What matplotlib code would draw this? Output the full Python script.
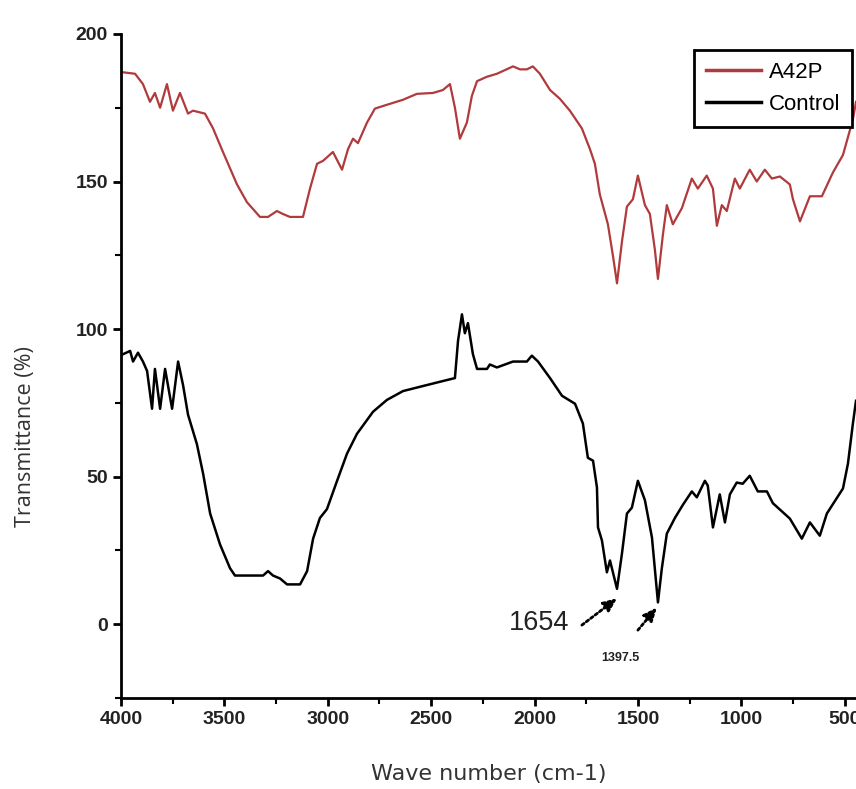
import matplotlib.pyplot as plt
from matplotlib.ticker import MultipleLocator

# ---------------------------------------------
# Datos leídos del espectro FTIR
# ---------------------------------------------
wn_a42p = [3990, 3932, 3894, 3860, 3836, 3811, 3778, 3749, 3715, 3676, 3652, 3594,
           3555, 3507, 3439, 3391, 3328, 3289, 3246, 3217, 3183, 3120, 3086, 3052,
           3023, 2975, 2931, 2902, 2878, 2854, 2810, 2772, 2714, 2636, 2569, 2491,
           2443, 2409, 2385, 2361, 2327, 2303, 2278, 2230, 2182, 2104, 2070, 2037,
           2008, 1974, 1925, 1877, 1829, 1771, 1732, 1708, 1684, 1645, 1621, 1601,
           1577, 1553, 1524, 1500, 1466, 1442, 1418, 1403, 1379, 1360, 1331, 1287,
           1239, 1210, 1167, 1137, 1118, 1094, 1070, 1031, 1007, 959, 925, 886,
           852, 813, 765, 750, 716, 668, 610, 557, 508, 460, 445]
t_a42p = [187, 186.5, 183, 177, 180, 175, 183, 174, 180, 173, 174, 173,
          168, 160, 149, 143, 138, 138, 140, 139, 138, 138, 147.6, 156,
          157, 160, 154, 161, 164.5, 163, 170, 174.7, 176, 177.7, 179.7, 180,
          181, 183, 175, 164.5, 170, 179, 184, 185.5, 186.5, 189, 188, 188,
          189, 186.5, 181, 178, 174, 168, 161, 156, 145.6, 135.5, 125, 115.5,
          129.7, 141.5, 144, 152, 142, 139, 127, 117, 132, 142, 135.5, 141,
          151, 147.6, 152, 147.6, 135, 142, 140, 151, 147.6, 154, 150, 154,
          151, 151.7, 149, 144, 136.5, 145, 145, 153, 159, 171, 177]

wn_control = [3990, 3956, 3942, 3918, 3894, 3874, 3850, 3836, 3811, 3787, 3753, 3724,
              3700, 3676, 3633, 3603, 3569, 3521, 3473, 3449, 3313, 3289, 3265, 3231,
              3197, 3134, 3100, 3071, 3038, 3004, 2955, 2907, 2859, 2781, 2714, 2636,
              2540, 2443, 2385, 2370, 2351, 2337, 2322, 2298, 2278, 2230, 2216, 2182,
              2104, 2037, 2013, 1983, 1925, 1867, 1804, 1766, 1742, 1717, 1698, 1693,
              1674, 1650, 1635, 1601, 1577, 1553, 1529, 1500, 1466, 1432, 1403, 1384,
              1360, 1321, 1282, 1239, 1215, 1176, 1162, 1137, 1104, 1079, 1055, 1022,
              993, 959, 920, 876, 847, 765, 707, 668, 620, 586, 508, 484, 460, 445]
t_control = [91.5, 92.6, 89, 92, 89, 85.8, 73, 86.5, 73, 86.5, 73, 89,
             81, 71, 61, 51, 37.5, 27, 19, 16.5, 16.5, 18, 16.5, 15.5,
             13.5, 13.5, 18, 29, 36, 39, 48.6, 57.8, 64.5, 72, 76, 79,
             80.7, 82.4, 83.4, 96, 105, 98.6, 102, 91.5, 86.5, 86.5, 88, 87,
             89, 89, 91, 89, 83.4, 77.4, 74.7, 68, 56.4, 55.4, 46.3, 32.8,
             28.4, 17.6, 21.6, 12, 24, 37.5, 39.5, 48.6, 42, 29.4, 7.4, 19,
             30.7, 36, 40.5, 45, 43, 48.6, 47, 32.8, 44, 34.5, 44, 48,
             47.6, 50.3, 45, 45, 41, 35.8, 29, 34.5, 30, 37.5, 46, 54.4, 68, 75.7]

# picos anotados
peak_labels = ['1654', '1397.5']

# ---------------------------------------------
# Figura
# ---------------------------------------------
fig = plt.figure(figsize=(8.56, 7.89), dpi=100)
ax = fig.add_axes([0.1414, 0.1153, 0.8586, 0.8417])

ax.plot(wn_a42p, t_a42p, color='#b03a3c', lw=1.6, label='A42P')
ax.plot(wn_control, t_control, color='black', lw=1.8, label='Control')

ax.set_xlim(4000, 445)
ax.set_ylim(-25, 200)
ax.xaxis.set_major_locator(MultipleLocator(500))
ax.xaxis.set_minor_locator(MultipleLocator(250))
ax.yaxis.set_major_locator(MultipleLocator(50))
ax.yaxis.set_minor_locator(MultipleLocator(25))

for s in ['top', 'right']:
    ax.spines[s].set_visible(False)
for s in ['left', 'bottom']:
    ax.spines[s].set_linewidth(2)
ax.tick_params(which='major', length=6, width=2, direction='out')
ax.tick_params(which='minor', length=4, width=1.5, direction='out')
for lab in ax.get_xticklabels() + ax.get_yticklabels():
    lab.set_fontfamily('Liberation Sans')
    lab.set_fontsize(14)
    lab.set_fontweight('bold')
    lab.set_color('#222222')

ax.set_xlabel('Wave number (cm-1)', fontsize=16, family='DejaVu Sans',
              color='#333333', labelpad=26)
ax.set_ylabel('Transmittance (%)', fontsize=15.5, family='Open Sans',
              color='#333333')
ax.yaxis.set_label_coords(-0.116, 0.393)

# anotaciones de picos
arrow_kw = dict(arrowstyle='-|>,head_length=0.8,head_width=0.35', color='black',
                lw=2, linestyle=(0, (1, 1)), shrinkA=0, shrinkB=0)
ax.annotate('', xy=(1601, 8.8), xytext=(1771, -0.3), arrowprops=arrow_kw)
ax.annotate('', xy=(1408, 5.7), xytext=(1500, -2), arrowprops=arrow_kw)
ax.text(1979, 0.3, peak_labels[0], fontsize=19.5, family='Liberation Sans',
        ha='center', va='center', color='#222222')
ax.text(1587, -11.5, peak_labels[1], fontsize=9, family='Liberation Sans',
        ha='center', va='center', color='#222222', fontweight='bold')

leg = ax.legend(loc='upper right', bbox_to_anchor=(0.995, 0.976), borderaxespad=0,
                fancybox=False, edgecolor='black', framealpha=1,
                prop={'family': 'Liberation Sans', 'size': 16},
                handlelength=2.45, handletextpad=0.35, borderpad=0.55,
                labelspacing=0.5)
leg.get_frame().set_linewidth(2)
for line in leg.get_lines():
    line.set_linewidth(2.5)

fig.savefig('out.png', dpi=100)
